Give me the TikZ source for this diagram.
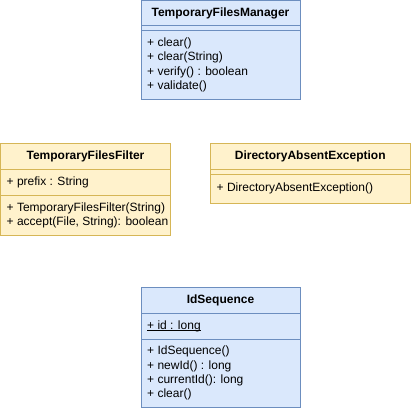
\documentclass[tikz,border=0pt]{standalone}
\usepackage{fontspec}
\setmainfont{Liberation Sans}
\usetikzlibrary{positioning}

\definecolor{umlblue}{HTML}{DAE8FC}
\definecolor{umlblueline}{HTML}{6C8EBF}
\definecolor{umlyellow}{HTML}{FFF2CC}
\definecolor{umlyellowline}{HTML}{D6B656}

\newlength\ulattrwidth
\newcommand\ulattr[1]{\settowidth\ulattrwidth{#1}\rlap{\rule[-1.6pt]{\ulattrwidth}{0.7pt}}#1}

\begin{document}
\begin{tikzpicture}[
    x=1pt,
    y=-1pt,
    bluepart/.style={
        draw=umlblueline,
        fill=umlblue,
        line width=1pt,
        inner sep=0pt,
        outer sep=0pt,
        minimum width=159pt
    },
    yellowpart/.style={
        draw=umlyellowline,
        fill=umlyellow,
        line width=1pt,
        inner sep=0pt,
        outer sep=0pt
    },
    classname/.style={
        font=\fontsize{12}{14.4}\selectfont\bfseries
    },
    members/.style={
        font=\fontsize{12}{14.4}\selectfont,
        align=left,
        anchor=west,
        inner sep=0pt,
        xshift=6pt
    }
    ]

    \useasboundingbox (0,0) rectangle (411,412);

    % TemporaryFilesManager
    \node[bluepart,classname,minimum height=25pt,anchor=north west] (mgr) at (141,1) {TemporaryFilesManager};
    \node[bluepart,minimum height=4.5pt,below=0pt of mgr] (mgrsep) {};
    \node[bluepart,minimum height=68.5pt,below=0pt of mgrsep] (mgrops) {};
    \node[members] (mgroplist) at (mgrops.west) {+ clear()\\+ clear(String)\\+ verify() : boolean\\+ validate()};

    % TemporaryFilesFilter
    \node[yellowpart,classname,minimum width=170pt,minimum height=26.5pt,anchor=north west] (filt) at (0.5,143) {TemporaryFilesFilter};
    \node[yellowpart,minimum width=170pt,minimum height=26pt,below=0pt of filt] (filtattr) {};
    \node[members] (filtattrlist) at (filtattr.west) {+ prefix : String};
    \node[yellowpart,minimum width=170pt,minimum height=40pt,below=0pt of filtattr] (filtops) {};
    \begin{scope}
        \clip (filtops.south west) rectangle ([xshift=-2pt]filtops.north east);
        \node[members] (filtoplist) at (filtops.west) {+ TemporaryFilesFilter(String)\\+ accept(File, String): boolean};
    \end{scope}

    % DirectoryAbsentException
    \node[yellowpart,classname,minimum width=199.5pt,minimum height=26pt,anchor=north west] (dae) at (210.5,143) {DirectoryAbsentException};
    \node[yellowpart,minimum width=199.5pt,minimum height=5pt,below=0pt of dae] (daesep) {};
    \node[yellowpart,minimum width=199.5pt,minimum height=29pt,below=0pt of daesep] (daeops) {};
    \node[members] (daeoplist) at (daeops.west) {+ DirectoryAbsentException()};

    % IdSequence
    \node[bluepart,classname,minimum height=26pt,anchor=north west] (idseq) at (141,287) {IdSequence};
    \node[bluepart,minimum height=26.5pt,below=0pt of idseq] (idattr) {};
    \node[members] (idattrlist) at (idattr.west) {\ulattr{+ id : long}};
    \node[bluepart,minimum height=67.5pt,below=0pt of idattr] (idops) {};
    \node[members] (idoplist) at (idops.west) {+ IdSequence()\\+ newId() : long\\+ currentId(): long\\+ clear()};
\end{tikzpicture}
\end{document}
